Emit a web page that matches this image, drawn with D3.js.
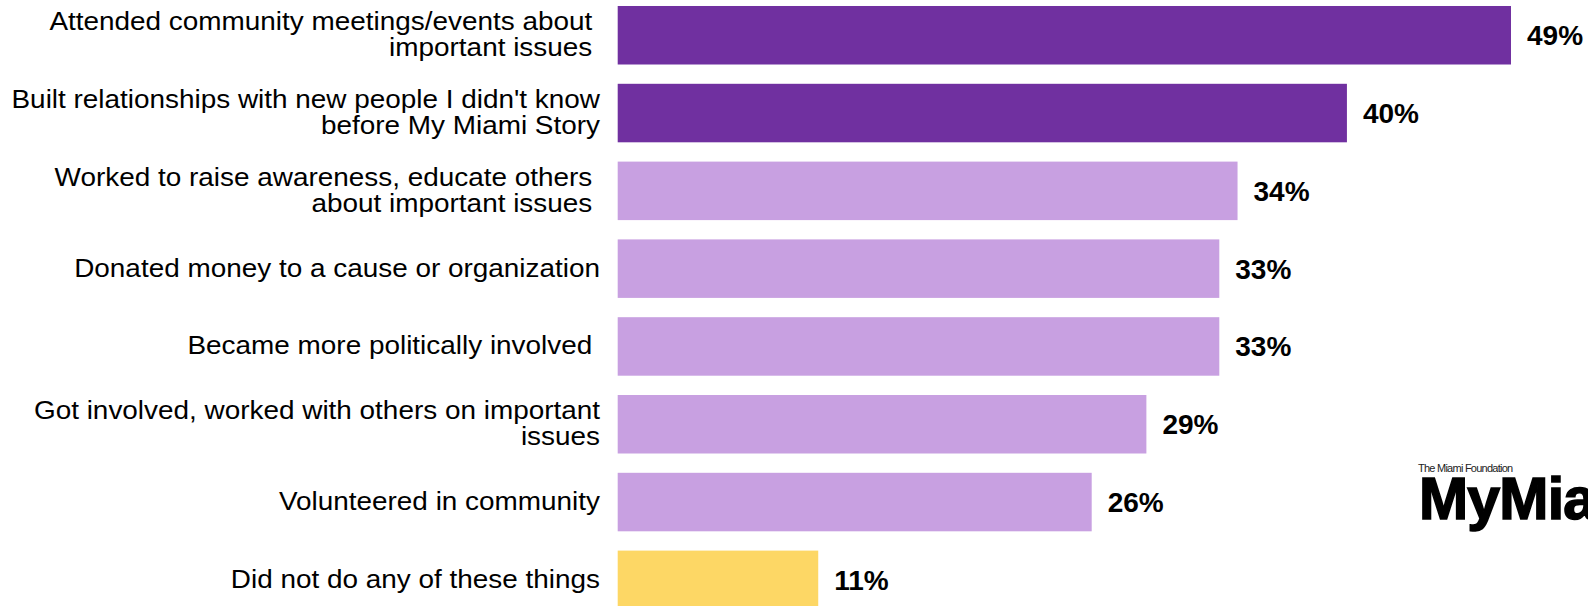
<!DOCTYPE html>
<html>
<head>
<meta charset="utf-8">
<script src="https://cdn.jsdelivr.net/npm/d3@7"></script>
<style>
  html, body { margin: 0; padding: 0; background: #ffffff; }
  svg { display: block; font-family: "Liberation Sans", Arial, Helvetica, sans-serif; }
  .cat { white-space: pre; }
</style>
</head>
<body>
<svg id="chart" width="1588" height="606"></svg>
<script>
// Survey responses: share of participants who did each activity afterwards.
// Line breaks inside a category are marked with "\n".
const categories = [
  "Attended community meetings/events about \nimportant issues ",
  "Built relationships with new people I didn't know\nbefore My Miami Story",
  "Worked to raise awareness, educate others \nabout important issues ",
  "Donated money to a cause or organization",
  "Became more politically involved ",
  "Got involved, worked with others on important\nissues",
  "Volunteered in community",
  "Did not do any of these things"
];
const values = [49, 40, 34, 33, 33, 29, 26, 11];
const groups = ["top", "top", "other", "other", "other", "other", "other", "none"];
const valueLabels = ["49%", "40%", "34%", "33%", "33%", "29%", "26%", "11%"];

const colors = { top: "#7030a0", other: "#c8a0e1", none: "#fdd765" };

const svg = d3.select("#chart");

const x0 = 617.7;
const x = d3.scaleLinear().domain([0, 49]).range([x0, 1511]);

const y = d3.scaleBand()
  .domain(d3.range(categories.length))
  .range([-3.65, 618.75])
  .paddingInner(0.248)
  .paddingOuter(0.124);

// Bars
svg.append("g").selectAll("rect")
  .data(values)
  .join("rect")
  .attr("x", x(0))
  .attr("y", (d, i) => y(i))
  .attr("width", d => x(d) - x(0))
  .attr("height", y.bandwidth())
  .attr("fill", (d, i) => colors[groups[i]]);

// Value labels
svg.append("g").selectAll("text")
  .data(values)
  .join("text")
  .attr("x", d => x(d) + 16)
  .attr("y", (d, i) => y(i) + y.bandwidth() / 2 + 10)
  .attr("font-size", 28)
  .attr("font-weight", "bold")
  .attr("fill", "#000")
  .text((d, i) => valueLabels[i]);

// Category labels, right-aligned against the bars (slightly wide-set type)
const lineH = 26;
const labelRight = 600;
const stretch = 1.095;
const catG = svg.append("g")
  .attr("transform", `translate(${labelRight},0) scale(${stretch},1)`);
categories.forEach((c, i) => {
  const lines = c.split("\n");
  const cy = y(i) + y.bandwidth() / 2;
  const t = catG.append("text")
    .attr("class", "cat")
    .attr("text-anchor", "end")
    .attr("font-size", 25.5)
    .attr("fill", "#000");
  lines.forEach((ln, k) => {
    t.append("tspan")
      .attr("x", 0)
      .attr("y", cy + 8 - (lines.length - 1) * lineH / 2 + k * lineH)
      .text(ln);
  });
});

// Foundation logo, partially running off the right edge
const logo = svg.append("g");
logo.append("text")
  .attr("x", 1418)
  .attr("y", 471.5)
  .attr("font-size", 11)
  .attr("letter-spacing", -0.75)
  .attr("fill", "#222")
  .text("The Miami Foundation");
logo.append("text")
  .attr("x", 1419)
  .attr("y", 519)
  .attr("font-size", 59)
  .attr("font-weight", "bold")
  .attr("letter-spacing", -0.8)
  .attr("fill", "#000")
  .attr("stroke", "#000")
  .attr("stroke-width", 1.6)
  .text("MyMiami");
</script>
</body>
</html>
